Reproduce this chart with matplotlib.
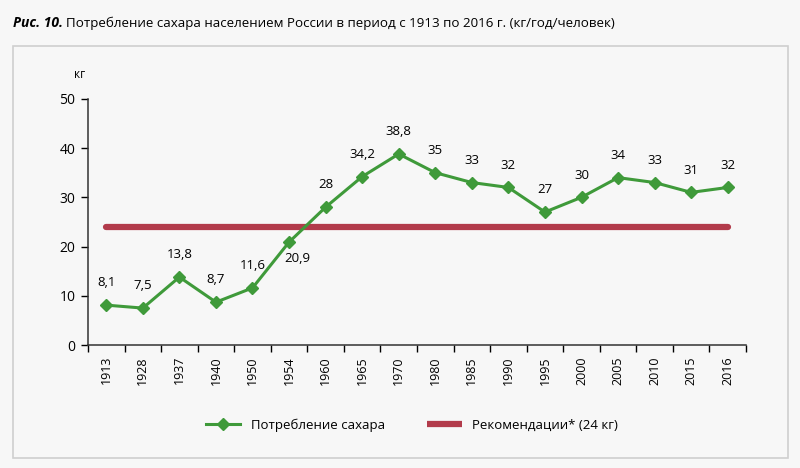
import matplotlib.pyplot as plt
from matplotlib.patches import Rectangle
import numpy as np

plt.rcParams['font.family'] = ['Open Sans', 'DejaVu Sans']

years = ['1913', '1928', '1937', '1940', '1950', '1954', '1960', '1965', '1970',
         '1980', '1985', '1990', '1995', '2000', '2005', '2010', '2015', '2016']
sugar = [8.1, 7.5, 13.8, 8.7, 11.6, 20.9, 28, 34.2, 38.8, 35, 33, 32, 27, 30, 34, 33, 31, 32]
labels = ['8,1', '7,5', '13,8', '8,7', '11,6', '20,9', '28', '34,2', '38,8',
          '35', '33', '32', '27', '30', '34', '33', '31', '32']
norm = 24

bg = '#f7f7f7'
green = '#3f9a3a'
red = '#b23b4b'

fig = plt.figure(figsize=(8, 4.68), dpi=100, facecolor=bg)
ax = fig.add_axes([0.11, 0.2628, 0.8225, 0.526])
ax.set_facecolor(bg)

x = np.arange(len(years))
ax.hlines(norm, x[0], x[-1], color=red, lw=4.5, capstyle='round', zorder=2,
          label='Рекомендации* (24 кг)')
ax.plot(x, sugar, color=green, lw=2.2, marker='D', ms=6, mfc=green, mec=green,
        zorder=3, label='Потребление сахара')

# подписи значений
for i, (v, t) in enumerate(zip(sugar, labels)):
    if t == '20,9':
        ax.annotate(t, (i, v), xytext=(6, -12), textcoords='offset points',
                    ha='center', va='center', fontsize=9.5)
    else:
        ax.annotate(t, (i, v), xytext=(0, 16), textcoords='offset points',
                    ha='center', va='center', fontsize=9.5)

ax.set_xlim(-0.5, len(years) - 0.5)
ax.set_ylim(0, 50)
ax.set_yticks([0, 10, 20, 30, 40, 50])
ax.set_xticks(x)
ax.set_xticklabels(years, rotation=90, fontsize=9)
ax.set_xticks(np.arange(len(years) + 1) - 0.5, minor=True)
ax.tick_params(axis='x', which='major', length=0, pad=8)
ax.tick_params(axis='x', which='minor', length=5, width=1, direction='out')
ax.tick_params(axis='y', length=5, width=1, labelsize=10, pad=4)
for s in ['top', 'right']:
    ax.spines[s].set_visible(False)
for s in ['left', 'bottom']:
    ax.spines[s].set_color('#333333')
    ax.spines[s].set_linewidth(1.1)

fig.text(0.1, 0.84, 'кг', fontsize=8.5, ha='center', va='center')

fig.patches.append(Rectangle((0.016, 0.022), 0.969, 0.88, transform=fig.transFigure,
                             fill=False, ec='#cfcfcf', lw=1.2))

fig.text(0.016, 0.951, 'Рис. 10.', fontsize=10, fontweight='bold', fontstyle='italic',
         va='center')
fig.text(0.0825, 0.951, 'Потребление сахара населением России в период с 1913 по 2016 г. (кг/год/человек)',
         fontsize=9.6, va='center')

h, l = ax.get_legend_handles_labels()
fig.legend(h[::-1], l[::-1], loc='center', bbox_to_anchor=(0.515, 0.092), ncol=2,
           frameon=False, fontsize=9.5, handlelength=2.6, columnspacing=3.2)

fig.savefig('out.png', dpi=100, facecolor=bg)
